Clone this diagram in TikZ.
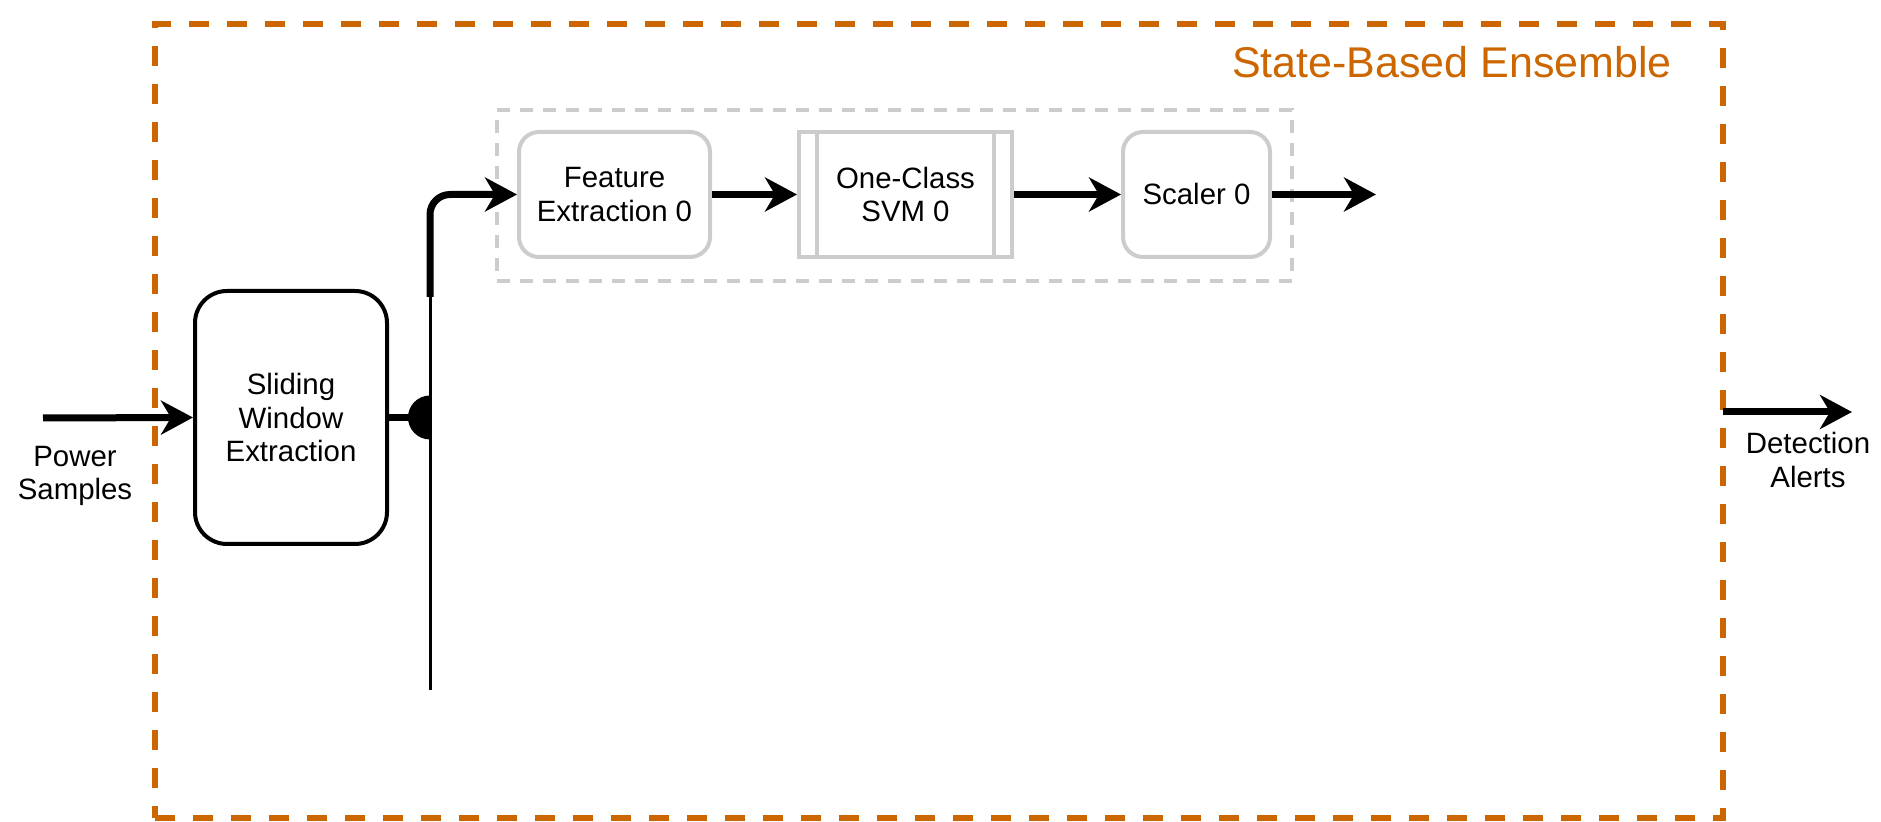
\documentclass[tikz,border=0pt]{standalone}
\usepackage{fontspec}
\setmainfont{Liberation Sans}
\usetikzlibrary{arrows.meta}
\definecolor{ensorange}{HTML}{CC6600}
\definecolor{ghost}{HTML}{CCCCCC}

\begin{document}
\begin{tikzpicture}[x=0.5pt,y=-0.5pt,
  labeltext/.style={font=\fontsize{14.7pt}{16.8pt}\selectfont, align=center, inner sep=0pt},
  blockbox/.style={draw=black, line width=2pt, rounded corners=16pt, minimum width=96pt, minimum height=126.5pt, labeltext},
  ghostbox/.style={draw=ghost, line width=2pt, rounded corners=10pt, minimum height=62.5pt, labeltext},
  procbox/.style={draw=ghost, line width=2pt, minimum height=62.5pt, labeltext},
  flow/.style={line width=3.5pt, -{Stealth[length=16pt,width=17pt,inset=5pt]}},
]
\useasboundingbox (0,0) rectangle (1881,822);

% ensemble frame and its title
\node[draw=ensorange, line width=3pt, dash pattern=on 10pt off 9pt,
      minimum width=784pt, minimum height=397pt, inner sep=0pt] (ensemble) at (939,421) {};
\node[font=\fontsize{21.5pt}{24pt}\selectfont, text=ensorange, inner sep=0pt] (title) at (1452,62) {State-Based Ensemble};

% first ensemble member (greyed pipeline)
\node[draw=ghost, line width=2pt, dash pattern=on 6.5pt off 5pt,
      minimum width=397.5pt, minimum height=85.5pt, inner sep=0pt] (group) at (894.5,195.5) {};
\node[ghostbox, minimum width=95.5pt] (fe) at (614.5,194.5) {Feature\\Extraction 0};
\node[procbox, minimum width=106.5pt] (svm) at (905.5,194.5) {One-Class\\SVM 0};
\draw[ghost, line width=2pt] ([xshift=10pt]svm.north west) -- ([xshift=10pt]svm.south west);
\draw[ghost, line width=2pt] ([xshift=-10pt]svm.north east) -- ([xshift=-10pt]svm.south east);
\node[ghostbox, minimum width=73.5pt] (scaler) at (1196.5,194.5) {Scaler 0};

% windowing stage
\node[blockbox] (slide) at (291,417.5) {Sliding\\Window\\Extraction};

% inputs and outputs
\coordinate (powerIn) at (43,418);
\node[labeltext] (power) at (75,476) {Power\\Samples};
\coordinate (alertOut) at (1723,412);
\coordinate (alertTip) at (1852,412);
\node[labeltext] (alerts) at (1808,460) {Detection\\Alerts};
\coordinate (scalerOut) at (1376,194.5);

% distribution bus
\coordinate (junction) at (430,417.5);
\coordinate (busTop) at (430,297);
\coordinate (busEnd) at (430,690);

\draw[flow] (powerIn) -- (slide.west);
\draw[line width=3.5pt] (slide.east) -- (junction);
\fill ([yshift=11pt]junction) arc[start angle=90, end angle=270, radius=11pt] -- cycle;
\draw[line width=1.5pt] (busTop) -- (busEnd);
\draw[flow, rounded corners=10pt] (busTop) |- (fe.west);
\draw[flow] (fe.east) -- (svm.west);
\draw[flow] (svm.east) -- (scaler.west);
\draw[flow] (scaler.east) -- (scalerOut);
\draw[flow] (alertOut) -- (alertTip);
\end{tikzpicture}
\end{document}
